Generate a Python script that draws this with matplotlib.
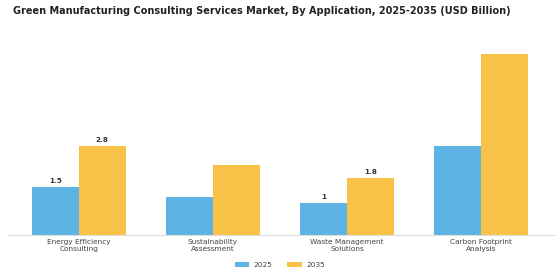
import matplotlib
matplotlib.use("Agg")
import matplotlib.pyplot as plt
import numpy as np

categories = ["Energy Efficiency\nConsulting", "Sustainability\nAssessment",
              "Waste Management\nSolutions", "Carbon Footprint\nAnalysis"]
values_2025 = [1.5, 1.2, 1.0, 2.8]
values_2035 = [2.8, 2.2, 1.8, 5.7]
labels_2025 = ["1.5", "", "1", ""]
labels_2035 = ["2.8", "", "1.8", ""]

blue = "#5DB3E4"
yellow = "#F8C249"

fig = plt.figure(figsize=(5.6, 2.8), dpi=100)
ax = fig.add_axes([8 / 560, 45 / 280, 547 / 560, 190 / 280])

x = np.arange(len(categories))
w = 0.35
b1 = ax.bar(x - w / 2, values_2025, w, color=blue, label="2025")
b2 = ax.bar(x + w / 2, values_2035, w, color=yellow, label="2035")

for bars, labs in ((b1, labels_2025), (b2, labels_2035)):
    for bar, lab in zip(bars, labs):
        if lab:
            ax.text(bar.get_x() + bar.get_width() / 2, bar.get_height() + 0.1, lab,
                    ha="center", va="bottom", fontsize=5.2, fontweight="bold", color="#333333")

ax.set_xlim(-0.527, 3.55)
ax.set_ylim(0, 5.97)
ax.set_xticks(x)
ax.set_xticklabels(categories, fontsize=5.3, color="#444444", linespacing=1.15)
ax.tick_params(axis="x", length=0, pad=3)
ax.set_yticks([])
for s in ("top", "right", "left"):
    ax.spines[s].set_visible(False)
ax.spines["bottom"].set_color("#dddddd")
ax.spines["bottom"].set_linewidth(0.8)

fig.suptitle("Green Manufacturing Consulting Services Market, By Application, 2025-2035 (USD Billion)",
             x=262 / 560, y=0.98, fontsize=7.0, fontweight="bold", color="#222222")

fig.legend(loc="center", bbox_to_anchor=(0.5, 1 - 265 / 280), ncol=2, frameon=False,
           fontsize=5.3, handlelength=2.0, handleheight=0.6, columnspacing=2.0,
           handletextpad=0.6, labelcolor="#444444")

fig.savefig("out.png", dpi=100)
